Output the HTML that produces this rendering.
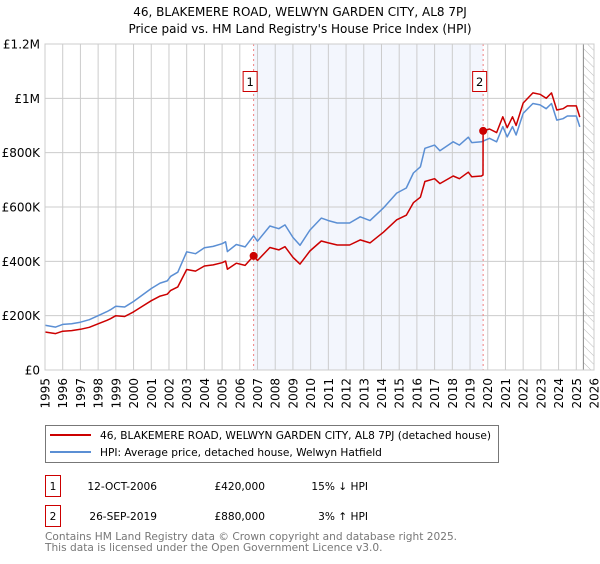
<!DOCTYPE html>
<html><head><meta charset="utf-8">
<style>
body{margin:0;background:#fff;font-family:"DejaVu Sans","Liberation Sans",sans-serif;}
svg text{font-family:"DejaVu Sans","Liberation Sans",sans-serif;}
</style></head>
<body>
<svg id="chart" width="600" height="560" xmlns="http://www.w3.org/2000/svg">
<defs>
<pattern id="hatch" patternUnits="userSpaceOnUse" width="6" height="6" patternTransform="rotate(-45)">
<line x1="0" y1="0" x2="0" y2="6" stroke="#bbb" stroke-width="1"/>
</pattern>
</defs>
<text x="300" y="16" text-anchor="middle" font-size="12" fill="#000">46, BLAKEMERE ROAD, WELWYN GARDEN CITY, AL8 7PJ</text>
<text x="300" y="33" text-anchor="middle" font-size="12" fill="#000">Price paid vs. HM Land Registry's House Price Index (HPI)</text>
<g id="plot"></g>
<g>
<rect x="45.5" y="425.5" width="453" height="37" fill="#fff" stroke="#777"/>
<line x1="50" y1="435" x2="91" y2="435" stroke="#cc0000" stroke-width="2"/>
<text x="100" y="439" font-size="10.6">46, BLAKEMERE ROAD, WELWYN GARDEN CITY, AL8 7PJ (detached house)</text>
<line x1="50" y1="452" x2="91" y2="452" stroke="#5b8fd4" stroke-width="2"/>
<text x="100" y="456" font-size="10.6">HPI: Average price, detached house, Welwyn Hatfield</text>
</g>
<g>
<rect x="45.5" y="475.5" width="15" height="21" fill="#fff" stroke="#cc0000"/>
<text x="53" y="490" font-size="10.6" text-anchor="middle">1</text>
<text x="157" y="490" font-size="10.6" text-anchor="end">12-OCT-2006</text>
<text x="265" y="490" font-size="10.6" text-anchor="end">£420,000</text>
<text x="368" y="490" font-size="10.6" text-anchor="end">15% ↓ HPI</text>
<rect x="45.5" y="505.5" width="15" height="21" fill="#fff" stroke="#cc0000"/>
<text x="53" y="520" font-size="10.6" text-anchor="middle">2</text>
<text x="157" y="520" font-size="10.6" text-anchor="end">26-SEP-2019</text>
<text x="265" y="520" font-size="10.6" text-anchor="end">£880,000</text>
<text x="368" y="520" font-size="10.6" text-anchor="end">3% ↑ HPI</text>
</g>
<text x="45" y="540" font-size="10.6" fill="#777">Contains HM Land Registry data © Crown copyright and database right 2025.</text>
<text x="45" y="551" font-size="10.6" fill="#777">This data is licensed under the Open Government Licence v3.0.</text>
</svg>
<script>
const yTickValues=[0,200000,400000,600000,800000,1000000,1200000];
const yTickLabels=["£0","£200K","£400K","£600K","£800K","£1M","£1.2M"];
const xTickYears=[1995,1996,1997,1998,1999,2000,2001,2002,2003,2004,2005,2006,2007,2008,2009,2010,2011,2012,2013,2014,2015,2016,2017,2018,2019,2020,2021,2022,2023,2024,2025,2026];
const hpiDates=[1995.0,1995.6,1996.0,1996.5,1997.0,1997.5,1998.0,1998.5,1998.7,1999.0,1999.5,2000.0,2000.5,2001.0,2001.5,2001.9,2002.1,2002.5,2003.0,2003.5,2004.0,2004.5,2005.0,2005.2,2005.3,2005.8,2006.3,2006.78,2007.0,2007.7,2008.2,2008.55,2009.0,2009.4,2009.96,2010.6,2011.0,2011.5,2012.2,2012.8,2013.35,2014.1,2014.86,2015.4,2015.8,2016.2,2016.45,2017.0,2017.3,2018.05,2018.4,2018.9,2019.1,2019.65,2020.1,2020.5,2020.85,2021.1,2021.4,2021.6,2022.0,2022.55,2022.95,2023.3,2023.6,2023.9,2024.25,2024.5,2025.0,2025.2];
const hpiValues=[165,158,168,170,176,185,200,215,222,235,232,252,276,300,320,328,345,360,435,428,450,455,465,472,436,462,453,494,474,530,520,534,488,459,515,559,550,541,541,564,550,596,651,670,725,748,816,828,807,840,828,857,837,840,853,840,896,858,896,865,945,981,976,962,981,920,925,935,935,895];
const priceDates=[1995.0,1995.6,1996.0,1996.5,1997.0,1997.5,1998.0,1998.5,1998.7,1999.0,1999.5,2000.0,2000.5,2001.0,2001.5,2001.9,2002.1,2002.5,2003.0,2003.5,2004.0,2004.5,2005.0,2005.2,2005.3,2005.8,2006.3,2006.78,2007.0,2007.7,2008.2,2008.55,2009.0,2009.4,2009.96,2010.6,2011.0,2011.5,2012.2,2012.8,2013.35,2014.1,2014.86,2015.4,2015.8,2016.2,2016.45,2017.0,2017.3,2018.05,2018.4,2018.9,2019.1,2019.65,2019.73,2019.74,2020.1,2020.5,2020.85,2021.1,2021.4,2021.6,2022.0,2022.55,2022.95,2023.3,2023.6,2023.9,2024.25,2024.5,2025.0,2025.2];
const priceValues=[140,134,143,145,150,157,170,183,189,200,197,214,235,255,272,279,293,306,370,364,383,387,395,401,371,393,385,420,403,451,442,454,415,390,438,475,468,460,460,479,468,507,553,570,616,636,694,704,686,714,704,728,711,714,718,880,887,874,932,892,932,900,983,1020,1015,1000,1020,957,962,972,972,931];
const saleDates=[2006.78,2019.74];
const saleValues=[420,880];
const saleLabels=["1","2"];
const dataEnd=2025.4;

const NS="http://www.w3.org/2000/svg";
const L=45,R=594,T=44,B=370,x0=1995,x1=2026,yMax=1200000;
function sx(t){return L+(t-x0)/(x1-x0)*(R-L);}
function sy(v){return B-v/yMax*(B-T);}
const g=document.getElementById('plot');
function mk(tag,attrs){const e=document.createElementNS(NS,tag);for(const k in attrs)e.setAttribute(k,attrs[k]);g.appendChild(e);return e;}
let e;
e=mk('rect',{x:sx(saleDates[0]),y:T,width:sx(saleDates[1])-sx(saleDates[0]),height:B-T,fill:'#f3f6fd'});


e=mk('rect',{x:sx(dataEnd),y:T,width:R-sx(dataEnd),height:B-T,fill:'url(#hatch)'});


yTickValues.forEach((v,i)=>{
  e=mk('line',{x1:L,x2:R,y1:sy(v),y2:sy(v),stroke:'#ccc','stroke-width':1});
  
  
  e=mk('text',{x:L-5,y:sy(v)+4.5,'text-anchor':'end','font-size':'12',fill:'#000'});
  e.textContent=yTickLabels[i];
  
  
});
xTickYears.forEach(yr=>{
  const x=sx(yr);
  e=mk('line',{x1:x,x2:x,y1:T,y2:B,stroke:'#ccc','stroke-width':1});
  
  
  e=mk('text',{x:0,y:0,'text-anchor':'end','font-size':'12',fill:'#000',transform:`translate(${x+4.5},${B+8}) rotate(-90)`});
  e.textContent=yr;
  
  
});
e=mk('line',{x1:sx(dataEnd),x2:sx(dataEnd),y1:T,y2:B,stroke:'#888','stroke-width':1});


saleDates.forEach((d,i)=>{
  e=mk('line',{x1:sx(d),x2:sx(d),y1:T,y2:B,stroke:'#f08080','stroke-width':1,'stroke-dasharray':'2,3'});
  
  
});
function pts(ds,vs){return ds.map((d,i)=>sx(d).toFixed(1)+','+sy(vs[i]*1000).toFixed(1)).join(' ');}
e=mk('polyline',{points:pts(hpiDates,hpiValues),fill:'none',stroke:'#5b8fd4','stroke-width':1.5,'stroke-linejoin':'round'});


e=mk('polyline',{points:pts(priceDates,priceValues),fill:'none',stroke:'#cc0000','stroke-width':1.5,'stroke-linejoin':'round'});


saleDates.forEach((d,i)=>{
  e=mk('circle',{cx:sx(d),cy:sy(saleValues[i]*1000),r:4,fill:'#cc0000'});
  
  
  e=mk('rect',{x:sx(d)-10.5,y:71.5,width:14,height:20,fill:'#fff',stroke:'#cc0000'});
  
  
  e=mk('text',{x:sx(d)-3.5,y:86,'text-anchor':'middle','font-size':'11.5',fill:'#000'});
  e.textContent=saleLabels[i];
  
  
});
e=mk('rect',{x:L,y:T,width:R-L,height:B-T,fill:'none',stroke:'#ccc'});


</script>
</body></html>
